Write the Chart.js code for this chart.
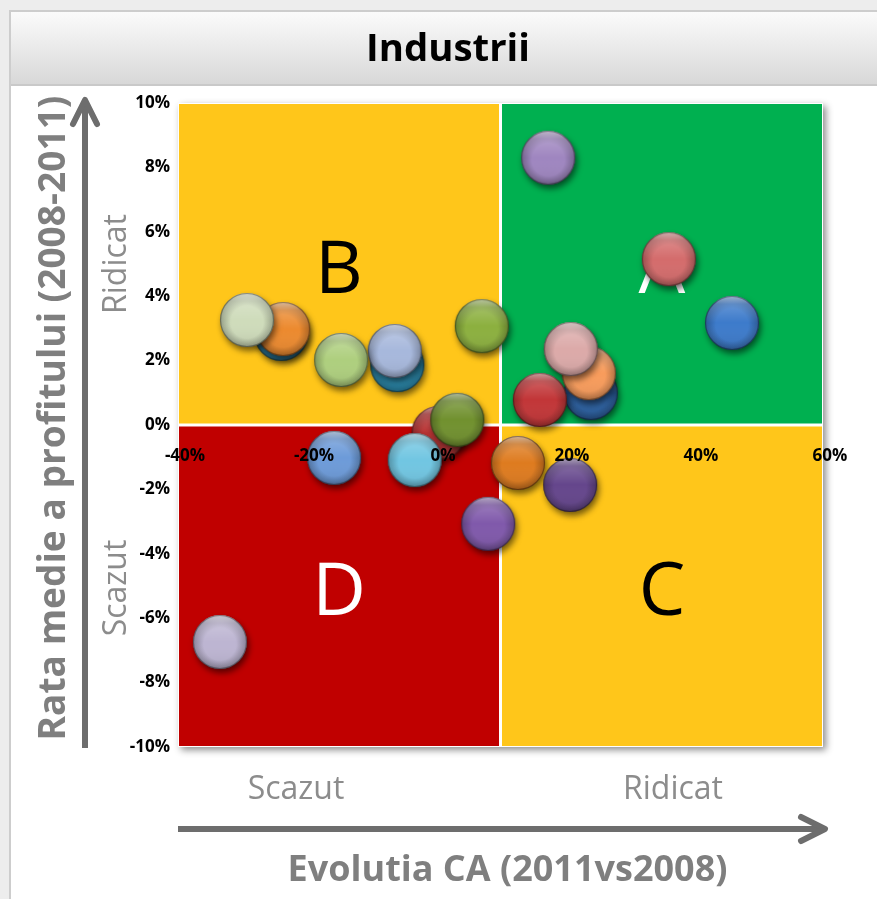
<!DOCTYPE html>
<html>
<head>
<meta charset="utf-8">
<title>Industrii</title>
<script src="https://cdn.jsdelivr.net/npm/chart.js@4.4.1/dist/chart.umd.min.js"></script>
<style>
  html, body { margin: 0; padding: 0; }
  body { width: 877px; height: 899px; overflow: hidden; position: relative; background: #ededed; }
  #frame { position: absolute; left: 9px; top: 10px; width: 900px; height: 920px; background: #fff; border: 2px solid #cdcdcd; box-sizing: border-box; }
  #frame .head { height: 72px; background: linear-gradient(#fbfbfb, #d8d8d8); border-bottom: 2px solid #c9c9c9; }
  #chart { position: absolute; left: 0; top: 0; }
</style>
</head>
<body>
<div id="frame"><div class="head"></div></div>
<canvas id="chart" width="877" height="899"></canvas>
<script>
// ==================== DATA ====================
// evolutia CA (2011 vs 2008), % -- in draw order (back to front)
const evolutiaCA = [-24.0, -23.7, -29.3, -6.0, -6.4, -14.7, 0.4, 3.3, -3.3, -15.8, 7.1,
                    24.0, 23.7, 20.9, 16.1, 12.7, 20.8, 8.1, -33.5, 17.4, 36.1, 45.9];
// rata medie a profitului (2008-2011), %
const rataProfit = [2.83, 2.98, 3.26, 1.86, 2.30, 2.02, -0.25, 0.16, -1.09, -1.02, 3.07,
                    0.99, 1.61, 2.36, 0.78, -1.18, -1.86, -3.07, -6.74, 8.3, 5.15, 3.17];
const bubbleColors = ['#2e86ab', '#ec8a2f', '#cfdcbb', '#2a8cb0', '#a7b8dc', '#aecf7e', '#b83434',
                      '#71912f', '#71c6e2', '#6d9bd9', '#8cb03f', '#2b5f9f', '#f89c5c', '#dcaaa9',
                      '#c23638', '#de7b1f', '#65468c', '#8059ab', '#bdb5d2', '#9f86c0', '#d46c6c', '#3d7bcb'];

const xTicks = [-40, -20, 0, 20, 40, 60];
const yTicks = [-10, -8, -6, -4, -2, 0, 2, 4, 6, 8, 10];
const splitX = 10;   // quadrant border on CA axis
const splitY = 0;    // quadrant border on profit axis
const quadrants = [
  { letter: 'B', xs: 'low', ys: 'high', fill: '#ffc61a', ink: '#000' },
  { letter: 'A', xs: 'high', ys: 'high', fill: '#00b050', ink: '#fff' },
  { letter: 'D', xs: 'low', ys: 'low', fill: '#c00000', ink: '#fff' },
  { letter: 'C', xs: 'high', ys: 'low', fill: '#ffc61a', ink: '#000' }
];

const FONT = '"Open Sans", Lato, sans-serif';
const GREY = '#7f7f7f';

// font size that makes a text span a given width
const measureCtx = document.createElement('canvas').getContext('2d');
function fitSize(text, weight, width) {
  measureCtx.font = weight + ' 100px ' + FONT;
  return 100 * width / measureCtx.measureText(text).width;
}

// ==================== GLOSSY BUBBLES ====================
function makeBubble(color) {
  const r = 27, pad = 11;
  const c = document.createElement('canvas');
  c.width = c.height = Math.round(2 * (r + pad));
  const g = c.getContext('2d');
  const cx = c.width / 2, cy = c.height / 2;

  g.save();
  g.shadowColor = 'rgba(0,0,0,0.55)';
  g.shadowBlur = 6; g.shadowOffsetX = 2; g.shadowOffsetY = 4;
  g.beginPath(); g.arc(cx, cy, r, 0, Math.PI * 2);
  g.fillStyle = color; g.fill();
  g.restore();

  g.save();
  g.beginPath(); g.arc(cx, cy, r, 0, Math.PI * 2); g.clip();
  const rim = g.createRadialGradient(cx, cy + 2, r * 0.6, cx, cy, r);
  rim.addColorStop(0, 'rgba(0,0,0,0)');
  rim.addColorStop(1, 'rgba(0,0,0,0.28)');
  g.fillStyle = rim; g.fillRect(0, 0, c.width, c.height);
  const hl = g.createLinearGradient(0, cy - r, 0, cy + r);
  hl.addColorStop(0, 'rgba(255,255,255,0.55)');
  hl.addColorStop(0.15, 'rgba(255,255,255,0.2)');
  hl.addColorStop(0.5, 'rgba(255,255,255,0)');
  hl.addColorStop(1, 'rgba(0,0,0,0.1)');
  g.fillStyle = hl; g.fillRect(0, 0, c.width, c.height);
  g.restore();

  g.beginPath(); g.arc(cx, cy, r - 0.5, 0, Math.PI * 2);
  g.lineWidth = 1.2; g.strokeStyle = 'rgba(0,0,0,0.35)'; g.stroke();
  return c;
}

// ==================== PLUGINS ====================
const quadrantPlugin = {
  id: 'quadrants',
  beforeDatasetsDraw(chart) {
    const { ctx, chartArea: a, scales: { x, y } } = chart;
    const sx = x.getPixelForValue(splitX), sy = y.getPixelForValue(splitY);
    ctx.save();
    ctx.shadowColor = 'rgba(0,0,0,0.45)';
    ctx.shadowBlur = 7; ctx.shadowOffsetX = 3; ctx.shadowOffsetY = 3;
    ctx.fillStyle = '#fff';
    ctx.fillRect(a.left, a.top, a.right - a.left, a.bottom - a.top);
    ctx.restore();

    const gap = 1.5;
    ctx.save();
    quadrants.forEach(q => {
      const x0 = q.xs === 'low' ? a.left + 1 : sx + gap;
      const x1 = q.xs === 'low' ? sx - gap : a.right - 1;
      const y0 = q.ys === 'high' ? a.top + 1 : sy + gap;
      const y1 = q.ys === 'high' ? sy - gap : a.bottom - 1;
      ctx.fillStyle = q.fill;
      ctx.fillRect(x0, y0, x1 - x0, y1 - y0);
      ctx.fillStyle = q.ink;
      ctx.font = '400 74px ' + FONT;
      ctx.textAlign = 'center';
      ctx.textBaseline = 'alphabetic';
      ctx.fillText(q.letter, (x0 + x1) / 2, (y0 + y1) / 2 + 29);
    });
    ctx.restore();
  }
};

function arrow(ctx, x0, y0, x1, y1) {
  const ang = Math.atan2(y1 - y0, x1 - x0);
  ctx.beginPath(); ctx.moveTo(x0, y0); ctx.lineTo(x1 - Math.cos(ang) * 3, y1 - Math.sin(ang) * 3); ctx.stroke();
  ctx.beginPath();
  ctx.moveTo(x1 - 24 * Math.cos(ang) + 12 * Math.sin(ang), y1 - 24 * Math.sin(ang) - 12 * Math.cos(ang));
  ctx.lineTo(x1, y1);
  ctx.lineTo(x1 - 24 * Math.cos(ang) - 12 * Math.sin(ang), y1 - 24 * Math.sin(ang) + 12 * Math.cos(ang));
  ctx.lineCap = 'round'; ctx.lineJoin = 'round';
  ctx.stroke();
  ctx.lineCap = 'butt';
}

const axisDecorPlugin = {
  id: 'axisDecor',
  afterDraw(chart) {
    const { ctx, chartArea: a } = chart;
    const midY = (a.top + a.bottom) / 2;
    const midX = (a.left + a.right) / 2;
    ctx.save();
    // arrows
    ctx.strokeStyle = '#6d6d6d';
    ctx.lineWidth = 6;
    arrow(ctx, a.left - 93, a.bottom + 1, a.left - 93, a.top - 3);
    arrow(ctx, a.left, a.bottom + 82, a.right + 2, a.bottom + 82);

    // axis titles
    ctx.fillStyle = GREY;
    ctx.textAlign = 'center';
    ctx.textBaseline = 'middle';
    const xt = 'Evolutia CA (2011vs2008)';
    ctx.font = 'bold ' + fitSize(xt, 'bold', 440) + 'px ' + FONT;
    ctx.fillText(xt, midX + 7, a.bottom + 124);
    const yt = 'Rata medie a profitului (2008-2011)';
    ctx.font = 'bold ' + fitSize(yt, 'bold', 645) + 'px ' + FONT;
    ctx.save();
    ctx.translate(a.left - 124, midY - 7);
    ctx.rotate(-Math.PI / 2);
    ctx.fillText(yt, 0, 0);
    ctx.restore();

    // low / high labels
    ctx.fillStyle = '#8c8c8c';
    ctx.font = '400 ' + fitSize('Ridicat', '400', 100) + 'px ' + FONT;
    ctx.fillText('Scazut', a.left + 118, a.bottom + 43);
    ctx.fillText('Ridicat', a.right - 150, a.bottom + 43);
    [['Ridicat', (a.top + midY) / 2], ['Scazut', (midY + a.bottom) / 2 + 2]].forEach(([t, cy]) => {
      ctx.save();
      ctx.translate(a.left - 61, cy);
      ctx.rotate(-Math.PI / 2);
      ctx.fillText(t, 0, 0);
      ctx.restore();
    });
    ctx.restore();
  }
};

// ==================== CHART ====================
const points = evolutiaCA.map((v, i) => ({ x: v, y: rataProfit[i] }));
const titleSize = fitSize('Industrii', 'bold', 164);
const titleTop = Math.round(50 - titleSize * 0.6);
const tickFont = { family: FONT, size: 17, weight: 'bold' };

new Chart(document.getElementById('chart'), {
  type: 'scatter',
  data: {
    datasets: [{
      data: points,
      pointStyle: bubbleColors.map(makeBubble),
      pointRadius: 27,
      pointHoverRadius: 27,
      backgroundColor: bubbleColors,
      clip: false
    }]
  },
  options: {
    responsive: false,
    animation: false,
    events: [],
    layout: { padding: { left: 73, right: 54, top: 0, bottom: 152 } },
    plugins: {
      legend: { display: false },
      tooltip: { enabled: false },
      title: {
        display: true,
        text: 'Industrii',
        color: '#000',
        font: { family: FONT, size: titleSize, weight: 'bold' },
        padding: { top: titleTop, bottom: 103 - titleTop - titleSize * 1.2 }
      }
    },
    scales: {
      x: {
        type: 'linear',
        min: xTicks[0], max: xTicks[xTicks.length - 1],
        position: { y: 0 },
        afterBuildTicks: s => { s.ticks = xTicks.map(v => ({ value: v })); },
        ticks: {
          callback: v => v + '%',
          color: '#000',
          font: tickFont,
          padding: 21,
          labelOffset: 7,
          maxRotation: 0,
          z: 1
        },
        grid: { display: false, drawTicks: false },
        border: { display: false }
      },
      y: {
        type: 'linear',
        min: yTicks[0], max: yTicks[yTicks.length - 1],
        afterFit: s => { s.width = 105; },
        afterBuildTicks: s => { s.ticks = yTicks.map(v => ({ value: v })); },
        ticks: {
          callback: v => v + '%',
          color: '#000',
          font: tickFont,
          padding: 8
        },
        grid: { display: false, drawTicks: false },
        border: { display: false }
      }
    }
  },
  plugins: [quadrantPlugin, axisDecorPlugin]
});
</script>
</body>
</html>
